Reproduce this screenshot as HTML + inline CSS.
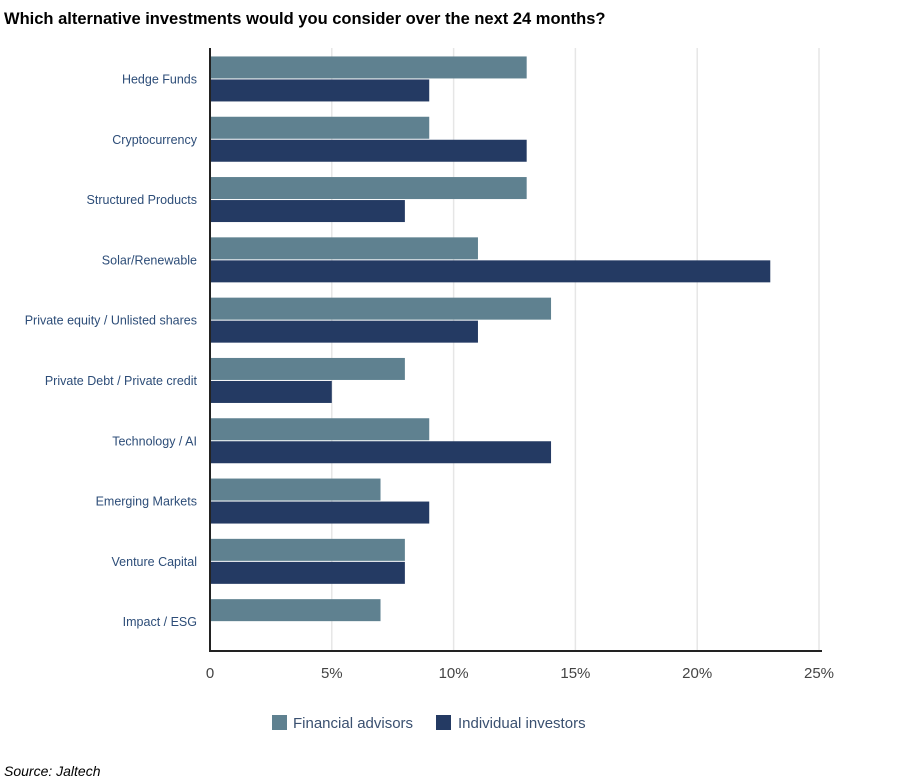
<!DOCTYPE html>
<html><head><meta charset="utf-8"><style>
body{margin:0;background:#fff;font-family:"Liberation Sans",sans-serif;}
#wrap{position:relative;width:897px;height:784px;overflow:hidden;}
</style></head><body>
<div id="wrap">
<svg id="chart" width="897" height="784">
<text x="4" y="24" font-size="16.5" font-weight="bold" fill="#000">Which alternative investments would you consider over the next 24 months?</text>
<g id="grid"></g><g id="bars"></g><g id="labels"></g>
<line x1="210" y1="48" x2="210" y2="651" stroke="#222" stroke-width="2"/>
<line x1="209" y1="651" x2="822" y2="651" stroke="#222" stroke-width="2"/>
<g>
<rect x="272" y="715" width="15" height="15" fill="#5f8190"/>
<text x="293" y="728" font-size="15" fill="#3a5070">Financial advisors</text>
<rect x="436" y="715" width="15" height="15" fill="#243a63"/>
<text x="458" y="728" font-size="15" fill="#3a5070">Individual investors</text>
</g>
<text x="4" y="776" font-size="14" font-style="italic" fill="#000">Source: Jaltech</text>
</svg>
</div>
<script>
const categories=["Hedge Funds","Cryptocurrency","Structured Products","Solar/Renewable","Private equity / Unlisted shares","Private Debt / Private credit","Technology / AI","Emerging Markets","Venture Capital","Impact / ESG"];
const advisors=[13,9,13,11,14,8,9,7,8,7];
const individuals=[9,13,8,23,11,5,14,9,8,0];
const ticks=[0,5,10,15,20,25];
const tickLabels=["0","5%","10%","15%","20%","25%"];
const NS="http://www.w3.org/2000/svg";
const xStart=210,xEnd=819,yTop=48,yBottom=651;
const xs=v=>xStart+(v/25)*(xEnd-xStart);
const band=(yBottom-yTop)/categories.length;
const cy=i=>yTop+band*i+band/2+1.3;
function mk(t,a,parent){const e=document.createElementNS(NS,t);for(const k in a)e.setAttribute(k,a[k]);parent.appendChild(e);return e;}
const grid=document.getElementById('grid'),bars=document.getElementById('bars'),labels=document.getElementById('labels');
ticks.forEach((t,i)=>{
 if(t>0){const g=mk('line',{x1:xs(t),x2:xs(t),y1:yTop,y2:yBottom,stroke:'#e6e6e6','stroke-width':1.5},grid);
 
 }
 const tx=mk('text',{x:xs(t),y:678,'text-anchor':'middle','font-size':15,fill:'#444'},labels);
 tx.textContent=tickLabels[i];
 
 
});
categories.forEach((c,i)=>{
 const y=cy(i);
 const l=mk('text',{x:197,y:y+4,'text-anchor':'end','font-size':12.5,fill:'#2d4d78'},labels);
 l.textContent=c;
 
 
 if(advisors[i]>0){const b=mk('rect',{x:xStart,y:y-23,width:xs(advisors[i])-xStart,height:22,fill:'#5f8190'},bars);
 
 }
 if(individuals[i]>0){const b2=mk('rect',{x:xStart,y:y,width:xs(individuals[i])-xStart,height:22,fill:'#243a63'},bars);
 
 }
});
</script>
</body></html>
